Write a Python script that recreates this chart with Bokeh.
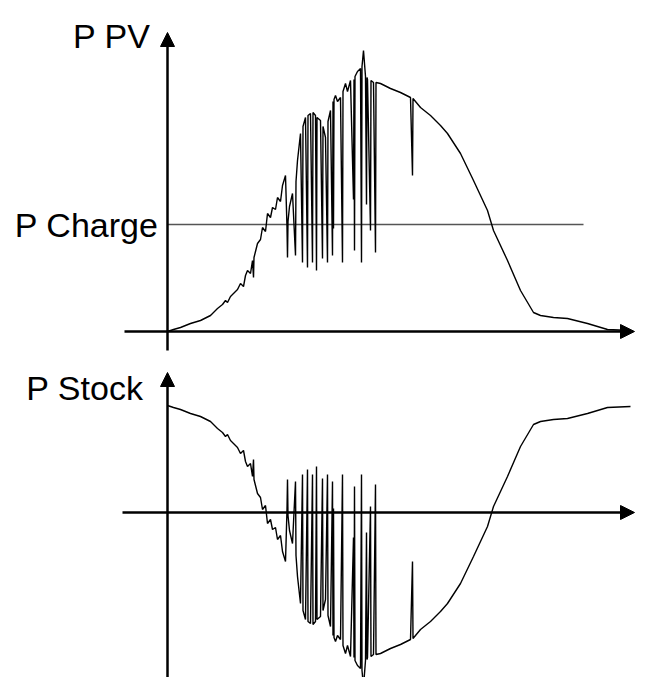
from bokeh.plotting import figure
from bokeh.models import Range1d, Arrow, NormalHead, Label
from bokeh.embed import file_html
from bokeh.resources import INLINE

# time (arbitrary units) and PV power (arbitrary units)
t_pv = [0, 6, 13, 23, 33, 43, 50, 55, 58, 60, 63, 66, 70, 73, 76, 78, 80, 83, 85, 86,
        86.5, 88, 90, 93, 95, 98, 100, 103, 105, 108, 110, 113, 115, 118, 119.5, 120,
        120.5, 122, 125, 128, 128.5, 130, 133, 135, 135.5,
        138, 140, 140.5, 143, 145, 145.5,
        148, 149, 149.5, 153, 155, 155.5, 158, 160, 160.5, 163, 165, 165.5, 166, 166.5,
        168, 170, 173, 175, 175.5, 178, 180, 183, 186, 186.5, 187, 187.5, 190, 193, 194,
        194.5, 196, 198, 199, 199.5, 200, 203, 203.5, 206, 208, 208.5, 213, 223, 233,
        243, 245, 245.5, 253, 263, 273, 280, 293, 306, 320, 326, 340, 353, 366, 373,
        386, 400, 420, 440, 463]
p_pv = [0, 2, 4, 8, 11, 16, 23, 27, 31, 29, 35, 38, 42, 48, 45, 56, 61, 58, 71, 54,
        74, 80, 88, 92, 104, 100, 118, 114, 124, 122, 134, 130, 146, 156, 104, 74,
        110, 125, 138, 76, 150, 171, 198, 69, 205,
        214, 64, 216, 218, 69, 219,
        216, 61, 214, 211, 73, 205, 194, 69, 210, 221, 76, 230, 103, 232,
        236, 230, 234, 69, 240, 248, 240, 251, 132, 252, 81, 255, 260, 263, 69,
        265, 281, 255, 127, 254, 252, 101, 251, 249, 79, 249, 248, 243, 239,
        234, 156, 233, 224, 216, 206, 198, 178, 151, 121, 101, 71, 41, 19, 16,
        14, 13, 8, 2, 1]
P_CHARGE = 107
charge_t = [0, 416]
# storage power = charging power minus PV power
p_stock = [P_CHARGE - v for v in p_pv]

p = figure(width=635, height=677, output_backend="svg", toolbar_location=None,
           x_range=Range1d(-167, 468), y_range=Range1d(-346, 331),
           x_axis_location=None, y_axis_location=None, min_border=0)
p.extra_y_ranges = {"stock": Range1d(-165, 512)}
p.grid.visible = False
p.outline_line_color = None
p.background_fill_color = "white"
p.border_fill_color = "white"

# --- top panel ---
p.line(charge_t, [P_CHARGE, P_CHARGE], line_color="#555555", line_width=1.5)
p.line(t_pv, p_pv, line_color="black", line_width=1.4)

def head():
    return NormalHead(size=14, fill_color="black", line_color="black", line_width=1)

p.add_layout(Arrow(end=head(), x_start=0, y_start=-19, x_end=0, y_end=299,
                   line_width=2.5, line_color="black"))
p.add_layout(Arrow(end=head(), x_start=-43, y_start=0, x_end=467, y_end=0,
                   line_width=2.5, line_color="black"))

# --- bottom panel ---
p.line(t_pv, p_stock, y_range_name="stock", line_color="black", line_width=1.4)
p.add_layout(Arrow(end=head(), x_start=0, y_start=-165, x_end=0, y_end=140,
                   y_range_name="stock", line_width=2.5, line_color="black"))
p.add_layout(Arrow(end=head(), x_start=-45, y_start=0, x_end=467, y_end=0,
                   y_range_name="stock", line_width=2.5, line_color="black"))

font = "Liberation Sans"
p.add_layout(Label(x=-17, y=296, text="P PV", text_align="right",
                   text_baseline="alphabetic", text_font=font,
                   text_font_size="34px", text_color="black"))
p.add_layout(Label(x=-9, y=P_CHARGE, text="P Charge", text_align="right",
                   text_baseline="middle", text_font=font,
                   text_font_size="34px", text_color="black"))
p.add_layout(Label(x=-24, y=125, y_range_name="stock", text="P Stock",
                   text_align="right", text_baseline="alphabetic", text_font=font,
                   text_font_size="34px", text_color="black"))

open("out.html", "w").write(file_html(p, INLINE))
